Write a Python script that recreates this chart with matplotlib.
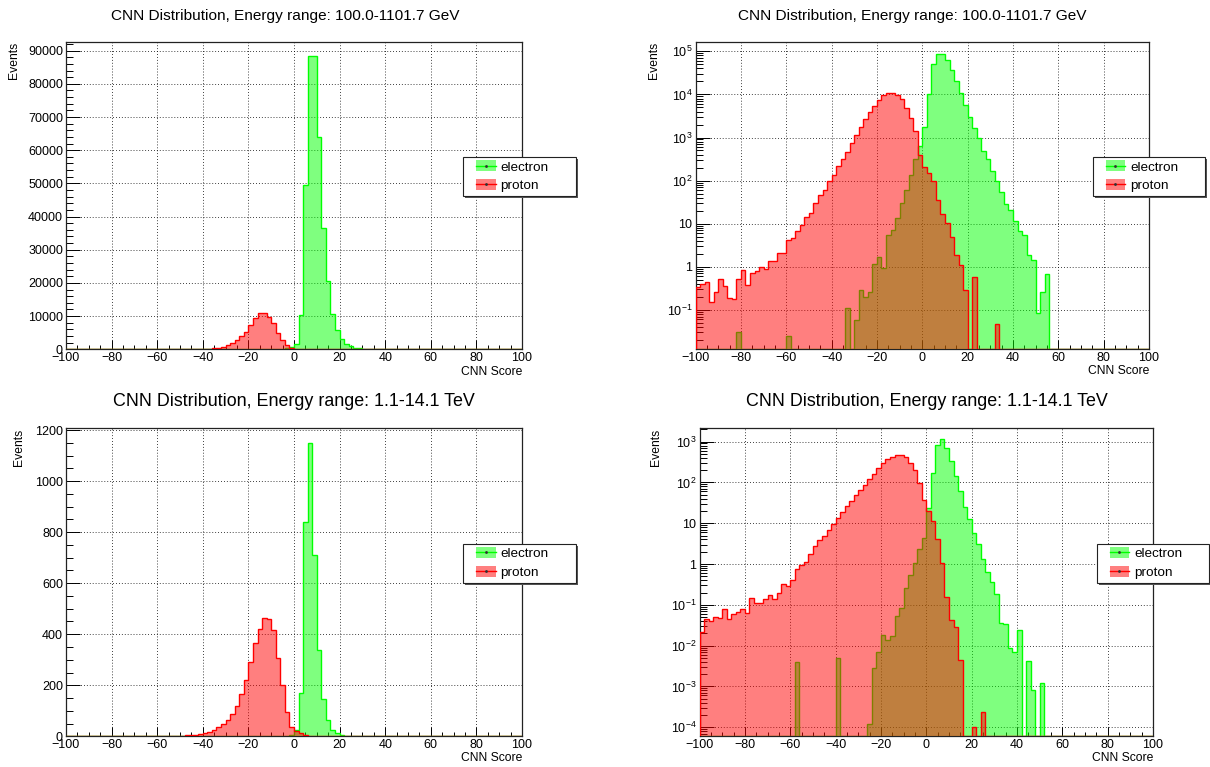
import matplotlib.pyplot as plt
import numpy as np
from matplotlib.lines import Line2D
from matplotlib.patches import Patch, Rectangle
from matplotlib.ticker import (MultipleLocator, FixedLocator,
                               FuncFormatter, NullFormatter)

plt.rcParams['font.family'] = ['Liberation Sans', 'DejaVu Sans']
plt.rcParams['mathtext.fontset'] = 'custom'
plt.rcParams['mathtext.rm'] = 'Liberation Sans'

# 100 bins of width 2 between -100 and 100
BIN_EDGES = np.linspace(-100, 100, 101)

TITLE_LOW = "CNN Distribution, Energy range: 100.0-1101.7 GeV"
TITLE_HIGH = "CNN Distribution, Energy range: 1.1-14.1 TeV"
X_LABEL = "CNN Score"
Y_LABEL = "Events"
LEGEND_LABELS = ["electron", "proton"]

# bin contents (bin k covers [-100+2k, -98+2k])
ELECTRON_LOW = [
    0, 0, 0, 0, 0, 0, 0, 0, 0, 0.031,
    0, 0, 0, 0, 0, 0, 0, 0, 0, 0,
    0.025, 0, 0, 0, 0, 0, 0, 0, 0, 0,
    0, 0, 0, 0.111, 0, 0.058, 0.286, 0.2, 0.257, 1.15,
    1.7, 0.93, 5.6, 7.1, 13.6, 31, 62, 138, 324, 625,
    1730, 10200, 49500, 88300, 88300, 64000, 36500, 20500, 10600, 5700,
    3000, 1660, 975, 478, 324, 165, 100, 55, 29, 21,
    11.4, 6.9, 5.6, 1.85, 1.42, 0.085, 0.26, 0.68, 0, 0,
    0, 0, 0, 0, 0, 0, 0, 0, 0, 0,
    0, 0, 0, 0, 0, 0, 0, 0, 0, 0,
]
PROTON_LOW = [
    0.34, 0.40, 0.44, 0.15, 0.26, 0.52, 0.35, 0.19, 0.18, 0.51,
    0.83, 0.38, 0.72, 0.79, 1.0, 0.89, 1.4, 1.4, 2.1, 2.1,
    4.3, 4.7, 6.7, 9.5, 14, 18, 30, 47, 61, 100,
    138, 215, 318, 463, 736, 1170, 1760, 2750, 3930, 5300,
    7300, 9530, 10800, 10800, 9880, 7840, 4840, 2840, 1440, 386,
    207, 151, 97, 35, 17, 10.4, 4.9, 1.9, 1.1, 0.29,
    0, 0.57, 0, 0, 0, 0, 0.046, 0, 0, 0,
    0, 0, 0, 0, 0, 0, 0, 0, 0, 0,
    0, 0, 0, 0, 0, 0, 0, 0, 0, 0,
    0, 0, 0, 0, 0, 0, 0, 0, 0, 0,
]
ELECTRON_HIGH = [
    0, 0, 0, 0, 0, 0, 0, 0, 0, 0,
    0, 0, 0, 0, 0, 0, 0, 0, 0, 0,
    0, 0.0039, 0, 0, 0, 0, 0, 0, 0, 0,
    0.0051, 0, 0, 0, 0, 0, 0, 0.00012, 0.0029, 0.0068,
    0.018, 0.0137, 0.0174, 0.054, 0.085, 0.26, 0.54, 1.04, 2.4, 4.4,
    24, 170, 840, 1150, 710, 338, 146, 63, 25.6, 12.5,
    5.7, 3.1, 1.3, 0.65, 0.37, 0.18, 0.036, 0.034, 0.0088, 0.007,
    0.024, 0, 0.0043, 0.00081, 0, 0.0012, 0, 0, 0, 0,
    0, 0, 0, 0, 0, 0, 0, 0, 0, 0,
    0, 0, 0, 0, 0, 0, 0, 0, 0, 0,
]
PROTON_HIGH = [
    0.022, 0.046, 0.040, 0.049, 0.048, 0.077, 0.046, 0.058, 0.068, 0.077,
    0.062, 0.144, 0.108, 0.112, 0.136, 0.173, 0.136, 0.19, 0.316, 0.288,
    0.40, 0.75, 0.94, 1.14, 1.75, 2.8, 3.8, 5.0, 6.7, 9.7,
    13.2, 18.5, 26, 36, 49, 65, 86, 119, 164, 222,
    293, 365, 420, 462, 460, 415, 306, 200, 97, 37,
    20.3, 11.5, 4.0, 1.04, 0.158, 0.042, 0.029, 0.0044, 0, 0,
    0.0001, 0, 0.00023, 0, 0, 0, 0, 0, 0, 0,
    0, 0, 0, 0, 0, 0, 0, 0, 0, 0,
    0, 0, 0, 0, 0, 0, 0, 0, 0, 0,
    0, 0, 0, 0, 0, 0, 0, 0, 0, 0,
]

GREEN = '#00ff00'
RED = '#ff0000'
W, H = 1210, 767

fig = plt.figure(figsize=(W / 100, H / 100), dpi=100)


def px_box(left, top, right, bottom):
    return [left / W, 1 - bottom / H, (right - left) / W, (bottom - top) / H]


def log_label(v, pos):
    e = int(round(np.log10(v)))
    if e == 0:
        return '1'
    if e == 1:
        return '10'
    return r'$\mathregular{10^{%d}}$' % e


def draw_hist(ax, values, color, baseline):
    # fill and outline share one zorder so the later histogram tints the earlier outline
    rgb = plt.matplotlib.colors.to_rgb(color)
    ax.stairs(values, BIN_EDGES, baseline=baseline, fill=True,
              facecolor=rgb + (0.5,), edgecolor='none', linewidth=0, zorder=2.6)
    ax.stairs(values, BIN_EDGES, baseline=baseline, color=color,
              linewidth=1.0, zorder=2.6)


def draw_panel(box, electron, proton, log, ylim, title, title_x, title_y, title_size,
               ylabel_x, xlabel_y, y_major=None, y_minor=None):
    left, top, right, bottom = box
    ax = fig.add_axes(px_box(*box))
    ax.set_axisbelow(True)

    electron = np.array(electron, dtype=float)
    proton = np.array(proton, dtype=float)
    if log:
        ax.set_yscale('log')
        base = ylim[0]
        electron = np.where(electron > 0, electron, base)
        proton = np.where(proton > 0, proton, base)
    else:
        base = 0

    draw_hist(ax, electron, GREEN, base)
    draw_hist(ax, proton, RED, base)

    ax.set_xlim(-100, 100)
    ax.set_ylim(*ylim)
    ax.xaxis.set_major_locator(MultipleLocator(20))
    ax.xaxis.set_minor_locator(MultipleLocator(5))
    if log:
        lo = int(np.ceil(np.log10(ylim[0])))
        hi = int(np.floor(np.log10(ylim[1])))
        decades = 10.0 ** np.arange(lo, hi + 1)
        ax.yaxis.set_major_locator(FixedLocator(decades))
        minors = [m * d for d in 10.0 ** np.arange(lo - 1, hi + 1) for m in range(2, 10)]
        minors = [m for m in minors if ylim[0] <= m <= ylim[1]]
        ax.yaxis.set_minor_locator(FixedLocator(minors))
        ax.yaxis.set_major_formatter(FuncFormatter(log_label))
        ax.yaxis.set_minor_formatter(NullFormatter())
    else:
        ax.yaxis.set_major_locator(MultipleLocator(y_major))
        ax.yaxis.set_minor_locator(MultipleLocator(y_minor))

    ax.grid(True, which='major', color='k', linestyle=(0, (1, 2.5)), linewidth=0.6)
    ax.tick_params(which='both', direction='in', top=False, right=False,
                   labelsize=9, pad=2.2, width=0.7, color='k')
    ax.tick_params(axis='x', which='major', length=6.5)
    ax.tick_params(axis='x', which='minor', length=3.2)
    ax.tick_params(axis='y', which='major', length=10)
    ax.tick_params(axis='y', which='minor', length=5)
    for s in ax.spines.values():
        s.set_linewidth(0.9)
        s.set_color('#222222')

    fig.text(title_x / W, 1 - title_y / H, title, ha='center', va='center', fontsize=title_size)
    fig.text(ylabel_x / W, 1 - top / H, Y_LABEL, rotation=90, ha='center', va='top', fontsize=8.7)
    fig.text(right / W, 1 - xlabel_y / H, X_LABEL, ha='right', va='center', fontsize=8.7)

    # legend box with ROOT-like shadow
    lx, ly = left + 397.3, top + 115.3
    lw, lh = 112.4, 39.2
    fig.add_artist(Rectangle(((lx + 2) / W, 1 - (ly + lh + 2) / H), lw / W, lh / H,
                             transform=fig.transFigure, facecolor='#555555', edgecolor='none'))
    fig.add_artist(Rectangle((lx / W, 1 - (ly + lh) / H), lw / W, lh / H,
                             transform=fig.transFigure, facecolor='white', edgecolor='#222222',
                             linewidth=0.8))
    handles = []
    for c in [GREEN, RED]:
        rgb = plt.matplotlib.colors.to_rgb(c)
        handles.append((Patch(facecolor=rgb + (0.5,), edgecolor='none'),
                        Line2D([], [], color=c, linewidth=1.0, marker='.', markersize=2,
                               markerfacecolor='#333333', markeredgecolor='#333333')))
    fig.legend(handles, LEGEND_LABELS, loc='upper left',
               bbox_to_anchor=((lx + 12.7) / W, 1 - (ly + 3.5) / H),
               bbox_transform=fig.transFigure, frameon=False, borderpad=0,
               borderaxespad=0, fontsize=9.7, handlelength=1.455, handleheight=0.87,
               handletextpad=0.35, labelspacing=0.4, numpoints=1)
    return ax


draw_panel((66, 41.7, 522, 349.3), ELECTRON_LOW, PROTON_LOW, False, (0, 92700),
           TITLE_LOW, 285, 16, 11.1, 13.5, 372, y_major=10000, y_minor=2000)
draw_panel((695.6, 41.7, 1149, 349.3), ELECTRON_LOW, PROTON_LOW, True, (0.0122, 1.67e5),
           TITLE_LOW, 912, 16, 11.1, 654.5, 371)
draw_panel((66, 428.3, 522, 736.3), ELECTRON_HIGH, PROTON_HIGH, False, (0, 1207),
           TITLE_HIGH, 294.3, 402, 12.9, 19, 758.3, y_major=200, y_minor=50)
draw_panel((699.6, 428.3, 1153, 736.3), ELECTRON_HIGH, PROTON_HIGH, True, (6.0e-5, 2120),
           TITLE_HIGH, 926.5, 402, 12.9, 656.4, 757.7)

fig.savefig('out.png', dpi=100)
